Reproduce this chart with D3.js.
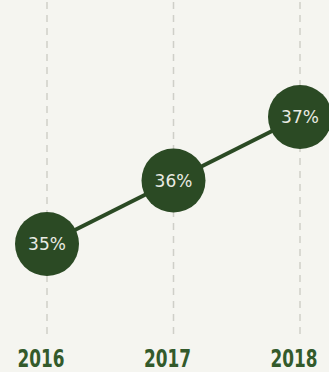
<!DOCTYPE html>
<html><head><meta charset="utf-8">
<script src="https://cdn.jsdelivr.net/npm/d3@7"></script>
<style>html,body{margin:0;padding:0;background:#f5f5f0;}svg{display:block;}</style>
</head><body>
<svg id="c" width="329" height="372"></svg>
<script>
const years = ["2016", "2017", "2018"];
const values = [35, 36, 37];
const labels = ["35%", "36%", "37%"];

const svg = d3.select("#c");
const W = 329, H = 372;
svg.append("rect").attr("width", W).attr("height", H).attr("fill", "#f5f5f0");

const x = d3.scalePoint().domain(years).range([47, 300]);
const y = d3.scaleLinear().domain([35, 37]).range([244, 117]);
const green = "#2b4a24";

// dashed gridlines
svg.selectAll("line.grid").data(years).enter().append("line")
  .attr("x1", d => x(d)).attr("x2", d => x(d))
  .attr("y1", 2).attr("y2", 336)
  .attr("stroke", "#cfcfc8").attr("stroke-width", 1.5)
  .attr("stroke-dasharray", "7,6");

// connecting line
const pts = years.map((d, i) => [x(d), y(values[i])]);
svg.append("path").attr("d", d3.line()(pts))
  .attr("fill", "none").attr("stroke", green).attr("stroke-width", 4);

// circles
svg.selectAll("circle.pt").data(years).enter().append("circle")
  .attr("cx", d => x(d)).attr("cy", (d, i) => y(values[i]))
  .attr("r", 32).attr("fill", green);

svg.selectAll("text.val").data(labels).enter().append("text")
  .attr("x", (d, i) => x(years[i])).attr("y", (d, i) => y(values[i]) + 6)
  .attr("text-anchor", "middle").attr("fill", "#e9ebe3")
  .attr("font-family", "DejaVu Sans, sans-serif").attr("font-size", 17)
  .text(d => d);

// axis labels
svg.selectAll("text.year").data(years).enter().append("text")
  .attr("x", d => x(d) - 6).attr("y", 367)
  .attr("text-anchor", "middle").attr("fill", "#335a2b")
  .attr("font-family", "DejaVu Sans Condensed, DejaVu Sans, sans-serif")
  .attr("font-weight", "bold").attr("font-size", 24)
  .attr("textLength", 47).attr("lengthAdjust", "spacingAndGlyphs")
  .text(d => d);
</script>
</body></html>
